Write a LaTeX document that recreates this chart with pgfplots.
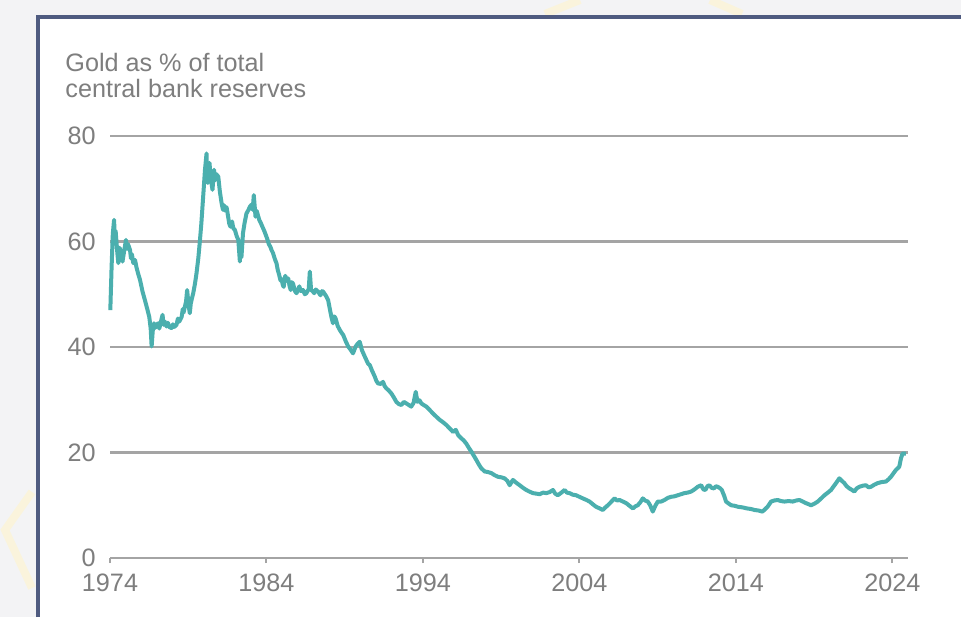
\documentclass[border=0pt]{standalone}
\usepackage{fontspec}
\setmainfont{Liberation Sans}
\usepackage{pgfplots}
\pgfplotsset{compat=1.18}

\definecolor{goldline}{HTML}{4BAFAE}
\definecolor{gridgray}{HTML}{A4A4A4}
\definecolor{labelgray}{HTML}{7E7E7E}
\definecolor{framecol}{HTML}{4F5B80}
\definecolor{pagebg}{HTML}{F3F3F5}
\definecolor{paleyellow}{HTML}{FAF3DC}

\begin{document}
\begin{tikzpicture}[x=0.5pt,y=0.5pt]
  \useasboundingbox (0,0) rectangle (961,617);
  \clip (0,0) rectangle (961,617);
  % page background and panel
  \fill[pagebg] (0,0) rectangle (961,617);
  \draw[paleyellow, line width=4pt, line join=miter] (32,125) -- (5,87) -- (32,29);
  \draw[paleyellow, line width=4pt] (545,603) -- (580,617);
  \draw[paleyellow, line width=4pt] (710,617) -- (742,603);
  \fill[white] (38,0) rectangle (961,600);
  \draw[framecol, line width=1.6pt] (38,0) -- (38,600) -- (961,600);

  % title
  \node[anchor=north west, inner sep=0pt, align=left, text=labelgray,
        font=\fontsize{12.6}{13}\selectfont] at (65,564)
        {Gold as \% of total\\central bank reserves};

  \begin{axis}[
    at={(55pt,29.5pt)}, anchor=south west,
    scale only axis, width=399pt, height=211pt,
    xmin=1974, xmax=2025, ymin=0, ymax=80,
    axis x line*=bottom, axis y line*=left,
    x axis line style={gridgray, line width=1.1pt, -},
    y axis line style={draw=none},
    ytick={0,20,40,60,80},
    xtick={1974,1984,1994,2004,2014,2024},
    ymajorgrids, grid style={gridgray, line width=1.1pt},
    ytick style={draw=none},
    xtick style={gridgray, line width=1pt},
    tick align=outside, major tick length=2.5pt,
    /pgf/number format/assume math mode=true,
    /pgf/number format/1000 sep={},
    tick label style={text=labelgray, font=\fontsize{12.6}{14}\selectfont},
    yticklabel style={inner sep=0pt, xshift=-4.5pt},
    xticklabel style={inner sep=0pt, yshift=-5pt},
    clip=false,
  ]
    \addplot[goldline, line width=2pt, line join=round] coordinates {
      (1974.02,47.0) (1974.10,55.0) (1974.18,61.5) (1974.26,64.1) (1974.31,60.5)
      (1974.36,62.0) (1974.45,58.5) (1974.53,55.9) (1974.62,58.8) (1974.70,57.8)
      (1974.80,56.2) (1974.92,58.5) (1975.02,60.3) (1975.10,58.6) (1975.15,59.5)
      (1975.28,58.4) (1975.34,56.8) (1975.40,57.6) (1975.49,55.9) (1975.60,56.5)
      (1975.70,55.0) (1975.80,53.9) (1975.92,52.7) (1976.08,50.5) (1976.23,48.9)
      (1976.40,47.0) (1976.51,45.7) (1976.60,43.5) (1976.66,40.1) (1976.73,43.0)
      (1976.81,44.5) (1976.88,43.6) (1976.95,44.2) (1977.08,44.5) (1977.15,43.5)
      (1977.22,44.4) (1977.36,46.1) (1977.42,44.2) (1977.48,44.9) (1977.61,43.9)
      (1977.70,44.6) (1977.78,43.8) (1977.93,43.6) (1978.02,44.3) (1978.10,43.8)
      (1978.25,44.2) (1978.34,45.4) (1978.42,44.8) (1978.58,45.7) (1978.65,47.2)
      (1978.70,46.5) (1978.78,47.6) (1978.86,48.6) (1978.93,50.8) (1979.02,48.0)
      (1979.10,46.4) (1979.16,48.2) (1979.22,49.0) (1979.32,50.2) (1979.43,52.0)
      (1979.53,54.0) (1979.65,57.0) (1979.75,60.3) (1979.84,63.5) (1979.91,66.6)
      (1980.00,70.5) (1980.07,73.6) (1980.17,76.7) (1980.21,72.0) (1980.25,71.1)
      (1980.30,73.5) (1980.36,74.9) (1980.42,72.5) (1980.46,71.5) (1980.55,69.8)
      (1980.60,71.8) (1980.65,73.6) (1980.72,71.6) (1980.78,72.8) (1980.92,72.3)
      (1981.02,69.5) (1981.13,67.3) (1981.22,66.0) (1981.28,66.9) (1981.34,65.9)
      (1981.45,66.5) (1981.55,64.7) (1981.62,63.4) (1981.70,62.8) (1981.80,63.8)
      (1981.88,62.5) (1981.98,62.2) (1982.10,61.0) (1982.20,60.3) (1982.30,56.2)
      (1982.35,59.7) (1982.40,57.0) (1982.50,61.6) (1982.60,63.5) (1982.72,65.3)
      (1982.85,66.0) (1982.94,66.6) (1983.05,67.0) (1983.12,66.0) (1983.19,68.8)
      (1983.30,64.7) (1983.38,65.8) (1983.45,65.0) (1983.55,64.0) (1983.64,63.5)
      (1983.74,62.8) (1983.86,62.0) (1984.00,60.9) (1984.08,60.2) (1984.15,59.5)
      (1984.25,59.0) (1984.32,58.4) (1984.42,57.8) (1984.50,57.0) (1984.57,56.4)
      (1984.64,55.9) (1984.72,54.6) (1984.80,53.8) (1984.90,52.6) (1984.96,52.9)
      (1985.05,51.7) (1985.10,51.4) (1985.20,53.5) (1985.30,52.6) (1985.39,53.0)
      (1985.48,51.5) (1985.55,50.8) (1985.62,52.3) (1985.70,52.0) (1985.82,50.6)
      (1985.92,50.2) (1986.02,50.9) (1986.10,51.5) (1986.20,50.6) (1986.34,50.8)
      (1986.45,50.0) (1986.55,50.2) (1986.70,51.0) (1986.77,54.3) (1986.85,50.8)
      (1986.95,50.6) (1987.05,50.2) (1987.15,50.9) (1987.30,50.5) (1987.45,49.8)
      (1987.55,50.6) (1987.62,50.5) (1987.80,49.7) (1987.94,48.9) (1988.05,47.2)
      (1988.15,45.7) (1988.25,44.5) (1988.34,45.8) (1988.42,45.4) (1988.55,44.0)
      (1988.69,43.2) (1988.80,42.7) (1988.90,42.3) (1989.05,41.2) (1989.22,40.1)
      (1989.35,39.6) (1989.53,38.8) (1989.62,39.5) (1989.70,40.1) (1989.82,40.6)
      (1989.96,41.0) (1990.10,39.4) (1990.25,38.4) (1990.39,37.5) (1990.50,36.8)
      (1990.60,36.6) (1990.75,35.5) (1990.92,34.4) (1991.02,33.6) (1991.13,33.1)
      (1991.30,33.0) (1991.45,33.4) (1991.55,32.6) (1991.65,32.2) (1991.80,31.8)
      (1991.98,31.2) (1992.15,30.4) (1992.30,29.6) (1992.45,29.2) (1992.62,29.0)
      (1992.78,29.6) (1992.94,29.3) (1993.10,29.0) (1993.25,28.7) (1993.40,29.4)
      (1993.54,31.5) (1993.65,29.6) (1993.78,29.9) (1993.90,29.3) (1994.05,29.0)
      (1994.22,28.7) (1994.45,28.0) (1994.64,27.4) (1994.85,26.8) (1995.07,26.2)
      (1995.30,25.7) (1995.50,25.2) (1995.70,24.6) (1995.92,23.9) (1996.10,24.3)
      (1996.25,23.3) (1996.45,22.7) (1996.60,22.3) (1996.77,21.7) (1996.93,20.9)
      (1997.09,20.2) (1997.25,19.4) (1997.41,18.6) (1997.58,17.7) (1997.73,17.0)
      (1997.95,16.4) (1998.15,16.3) (1998.37,16.1) (1998.58,15.7) (1998.79,15.4)
      (1999.00,15.3) (1999.22,15.1) (1999.40,14.6) (1999.54,13.8) (1999.75,14.8)
      (1999.95,14.3) (2000.18,13.8) (2000.40,13.3) (2000.60,12.9) (2000.80,12.6)
      (2001.03,12.3) (2001.25,12.2) (2001.46,12.1) (2001.68,12.4) (2001.88,12.3)
      (2002.10,12.5) (2002.31,12.9) (2002.45,12.2) (2002.62,11.9) (2002.85,12.4)
      (2003.05,12.9) (2003.20,12.4) (2003.37,12.3) (2003.58,12.0) (2003.79,11.9)
      (2004.00,11.6) (2004.22,11.3) (2004.45,11.0) (2004.65,10.7) (2004.85,10.2)
      (2005.07,9.7) (2005.30,9.4) (2005.50,9.1) (2005.66,9.6) (2005.82,10.0)
      (2006.05,10.7) (2006.25,11.3) (2006.40,10.9) (2006.57,11.0) (2006.78,10.7)
      (2006.99,10.4) (2007.20,9.9) (2007.42,9.4) (2007.58,9.8) (2007.73,10.0)
      (2007.90,10.6) (2008.05,11.3) (2008.20,10.9) (2008.37,10.7) (2008.52,10.0)
      (2008.69,8.8) (2008.85,9.9) (2009.01,10.7) (2009.22,10.7) (2009.44,11.0)
      (2009.65,11.4) (2009.86,11.6) (2010.08,11.7) (2010.29,11.9) (2010.50,12.1)
      (2010.71,12.3) (2010.92,12.4) (2011.14,12.6) (2011.35,13.0) (2011.56,13.5)
      (2011.78,13.8) (2011.92,13.0) (2012.05,12.9) (2012.18,13.6) (2012.30,13.8)
      (2012.45,13.3) (2012.60,13.2) (2012.72,13.6) (2012.84,13.5) (2013.00,13.2)
      (2013.10,12.9) (2013.25,11.8) (2013.37,10.7) (2013.55,10.3) (2013.70,10.0)
      (2013.92,9.9) (2014.15,9.7) (2014.42,9.6) (2014.70,9.4) (2014.95,9.3)
      (2015.20,9.1) (2015.45,9.0) (2015.70,8.8) (2015.88,9.3) (2016.02,9.7)
      (2016.25,10.7) (2016.45,10.9) (2016.67,11.0) (2016.88,10.8) (2017.10,10.7)
      (2017.38,10.8) (2017.63,10.7) (2017.85,10.9) (2018.06,11.0) (2018.28,10.7)
      (2018.48,10.4) (2018.65,10.2) (2018.80,10.0) (2019.02,10.3) (2019.23,10.7)
      (2019.45,11.3) (2019.66,11.9) (2019.88,12.4) (2020.08,12.9) (2020.25,13.6)
      (2020.40,14.2) (2020.61,15.1) (2020.78,14.6) (2020.93,14.2) (2021.08,13.6)
      (2021.25,13.2) (2021.42,12.9) (2021.57,12.6) (2021.72,13.2) (2021.89,13.5)
      (2022.10,13.7) (2022.31,13.8) (2022.48,13.4) (2022.63,13.5) (2022.85,13.9)
      (2023.06,14.2) (2023.32,14.4) (2023.59,14.5) (2023.75,14.9) (2023.91,15.4)
      (2024.08,16.1) (2024.23,16.7) (2024.44,17.3) (2024.55,18.9) (2024.65,19.8)
      (2024.87,19.8)
    };
  \end{axis}
\end{tikzpicture}
\end{document}
